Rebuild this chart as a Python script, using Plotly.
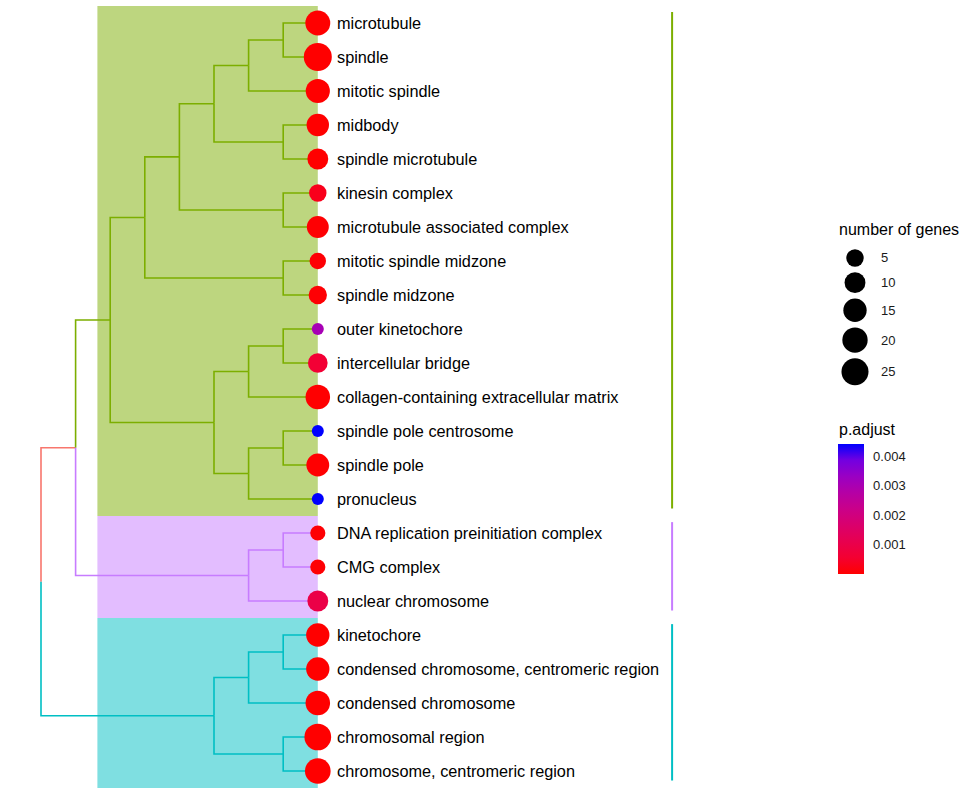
import math
import plotly.graph_objects as go

# ---------------- data ----------------
terms = [
    "microtubule", "spindle", "mitotic spindle", "midbody", "spindle microtubule",
    "kinesin complex", "microtubule associated complex", "mitotic spindle midzone",
    "spindle midzone", "outer kinetochore", "intercellular bridge",
    "collagen-containing extracellular matrix", "spindle pole centrosome",
    "spindle pole", "pronucleus", "DNA replication preinitiation complex",
    "CMG complex", "nuclear chromosome", "kinetochore",
    "condensed chromosome, centromeric region", "condensed chromosome",
    "chromosomal region", "chromosome, centromeric region",
]
gene_counts = [19, 28, 17, 13, 10, 5, 12, 4, 6, 2, 8, 18, 2, 14, 2, 3, 3, 10, 15, 15, 18, 24, 21]
p_adjust = [1e-9, 1e-12, 1e-8, 2e-6, 5e-6, 3e-4, 3e-5, 6e-5, 4e-5, 3.05e-3, 6.2e-4, 8e-6,
            4.42e-3, 1e-5, 4.42e-3, 5e-5, 5e-5, 9.5e-4, 1e-9, 1e-9, 1e-10, 1e-14, 1e-11]
cluster = ["A"] * 15 + ["B"] * 3 + ["C"] * 5
# tree topology: nested pairs of leaf indices (row order top -> bottom)
tree = ((((((((0, 1), 2), (3, 4)), (5, 6)), (7, 8)),
          (((9, 10), 11), ((12, 13), 14))),
         ((15, 16), 17)),
        (((18, 19), 20), (21, 22)))
size_breaks = [5, 10, 15, 20, 25]
color_ticks = [0.001, 0.002, 0.003, 0.004]

# ---------------- styles ----------------
group_colors = {None: "#F8766D", "A": "#7CAE00", "B": "#C77CFF", "C": "#00BFC4"}
hilight_colors = {"A": "rgba(124,174,0,0.5)", "B": "rgba(199,124,255,0.5)", "C": "rgba(0,191,196,0.5)"}
FONT = "Liberation Sans, Arial, sans-serif"
W, H = 970, 791
X0_PX, LEVEL_PX = 41, 34.6   # pixel of root, pixels per tree level
Y0_PX, ROW_PX = 23, 34       # pixel of first row, pixels per row
HILIGHT_X0 = 1.63
STRIP_OFFSET = 10.24
SIZE_MIN, SIZE_MAX = 12, 28
CB_X, CB_TOP, CB_LEN, CB_THICK = 838, 444, 130, 26

colorscale = [[0, "#FF0000"], [0.125, "#F40031"], [0.25, "#E8004F"], [0.375, "#DA006C"],
              [0.5, "#CA0089"], [0.625, "#B500A5"], [0.75, "#9A00C3"], [0.875, "#7300E0"],
              [1, "#0000FF"]]

nmin, nmax = min(gene_counts), max(gene_counts)
pmin, pmax = min(p_adjust), max(p_adjust)


def dot_size(n):
    return SIZE_MIN + (SIZE_MAX - SIZE_MIN) * math.sqrt(max(n - nmin, 0) / (nmax - nmin))


# ---------------- tree layout ----------------
def height(node):
    if isinstance(node, int):
        return 0
    return 1 + max(height(c) for c in node)


def leaves(node):
    if isinstance(node, int):
        return [node]
    out = []
    for c in node:
        out += leaves(c)
    return out


def group(node):
    g = {cluster[i] for i in leaves(node)}
    return g.pop() if len(g) == 1 else None


max_h = height(tree)


def pos(node):
    if isinstance(node, int):
        return max_h, node + 1
    ys = [pos(c)[1] for c in node]
    return max_h - height(node), sum(ys) / len(ys)


segs = {}


def walk(node):
    if isinstance(node, int):
        return
    px, py = pos(node)
    for c in node:
        cx, cy = pos(c)
        g = group(c)
        xs, ys = segs.setdefault(g, ([], []))
        xs += [px, px, cx, None]
        ys += [py, cy, cy, None]
        walk(c)


walk(tree)

fig = go.Figure()

for g, (xs, ys) in segs.items():
    fig.add_trace(go.Scatter(x=xs, y=ys, mode="lines", hoverinfo="skip", showlegend=False,
                             line=dict(color=group_colors[g], width=1.6)))

# highlight rectangles and right strips
shapes = []
for g in ["A", "B", "C"]:
    rows = [i + 1 for i, c in enumerate(cluster) if c == g]
    shapes.append(dict(type="rect", xref="x", yref="y", x0=HILIGHT_X0, x1=max_h,
                       y0=min(rows) - 0.5, y1=max(rows) + 0.5, fillcolor=hilight_colors[g],
                       line=dict(width=0), layer="below"))
    fig.add_trace(go.Scatter(x=[max_h + STRIP_OFFSET] * 2, y=[min(rows) - 0.32, max(rows) + 0.28],
                             mode="lines", hoverinfo="skip", showlegend=False,
                             line=dict(color=group_colors[g], width=2)))

leaf_x = [pos(i)[0] for i in range(len(terms))]
leaf_y = [i + 1 for i in range(len(terms))]
fig.add_trace(go.Scatter(
    x=leaf_x, y=leaf_y, mode="markers", showlegend=False, text=terms,
    marker=dict(size=[dot_size(n) for n in gene_counts], color=p_adjust,
                colorscale=colorscale, cmin=pmin, cmax=pmax,
                line=dict(width=0), opacity=1,
                colorbar=dict(thickness=CB_THICK, thicknessmode="pixels", len=CB_LEN, lenmode="pixels",
                              x=CB_X / W, xanchor="left", y=1 - CB_TOP / H, yanchor="top",
                              xpad=0, ypad=0, outlinewidth=0, tickvals=color_ticks,
                              ticktext=[f"{v:.3f}" for v in color_ticks], ticks="outside",
                              ticklen=7, tickcolor="rgba(255,255,255,0)", tickwidth=1,
                              tickfont=dict(size=13, color="#1a1a1a", family=FONT)))))

# white tick marks inside the colour bar (ggplot style), both edges
for v in color_ticks:
    ypx = CB_TOP + CB_LEN * (1 - (v - pmin) / (pmax - pmin))
    for xa, xb in [(CB_X, CB_X + 5), (CB_X + CB_THICK - 5, CB_X + CB_THICK)]:
        shapes.append(dict(type="line", xref="paper", yref="paper", x0=xa / W, x1=xb / W,
                           y0=1 - ypx / H, y1=1 - ypx / H, line=dict(color="white", width=1),
                           layer="above"))

annotations = []
for t, x, y in zip(terms, leaf_x, leaf_y):
    annotations.append(dict(x=x, y=y, xref="x", yref="y", text=t, showarrow=False,
                            xanchor="left", yanchor="middle", xshift=17,
                            font=dict(size=16.3, color="black", family=FONT)))

# size legend (own pixel-scaled axes)
ky = []
cur = 258
prev = None
for b in size_breaks:
    d = dot_size(b)
    if prev is not None:
        cur += (prev + d) / 2 + 5.5
    ky.append(cur)
    prev = d
fig.add_trace(go.Scatter(x=[855] * len(size_breaks), y=ky, mode="markers", xaxis="x2", yaxis="y2",
                         showlegend=False, hoverinfo="skip",
                         marker=dict(size=[dot_size(b) for b in size_breaks], color="black",
                                     opacity=1, line=dict(width=0))))
for b, y in zip(size_breaks, ky):
    annotations.append(dict(x=879, y=y, xref="x2", yref="y2", text=str(b), showarrow=False,
                            xanchor="left", yanchor="middle",
                            font=dict(size=13, color="#1a1a1a", family=FONT)))
annotations.append(dict(x=837 / W, y=1 - 229 / H, xref="paper", yref="paper", text="number of genes",
                        showarrow=False, xanchor="left", yanchor="middle",
                        font=dict(size=16, color="black", family=FONT)))
annotations.append(dict(x=837 / W, y=1 - 429 / H, xref="paper", yref="paper", text="p.adjust",
                        showarrow=False, xanchor="left", yanchor="middle",
                        font=dict(size=16, color="black", family=FONT)))

fig.update_layout(
    width=W, height=H, margin=dict(l=0, r=0, t=0, b=0), autosize=False,
    paper_bgcolor="white", plot_bgcolor="rgba(0,0,0,0)",
    shapes=shapes, annotations=annotations,
    xaxis=dict(range=[-X0_PX / LEVEL_PX, (W - X0_PX) / LEVEL_PX], domain=[0, 1], visible=False,
               fixedrange=True),
    yaxis=dict(range=[1 + (H - Y0_PX) / ROW_PX, 1 - Y0_PX / ROW_PX], domain=[0, 1], visible=False,
               fixedrange=True),
    xaxis2=dict(range=[830, 970], domain=[830 / W, 1], anchor="y2", visible=False, fixedrange=True),
    yaxis2=dict(range=[400, 200], domain=[1 - 400 / H, 1 - 200 / H], anchor="x2", visible=False,
                fixedrange=True),
    font=dict(family=FONT),
)

fig.write_html("out.html", config={"displayModeBar": False},
               post_script="document.body.style.margin='0';document.body.style.overflow='hidden';")
